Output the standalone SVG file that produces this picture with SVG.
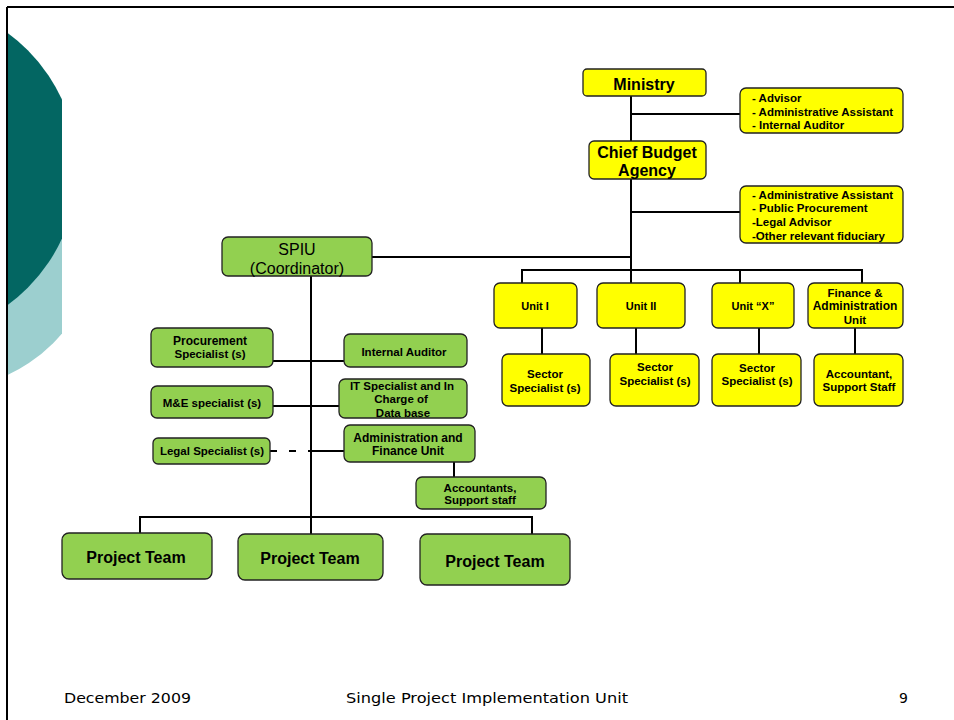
<svg xmlns="http://www.w3.org/2000/svg" width="954" height="720" viewBox="0 0 954 720">
<defs>
<style>
.y{fill:#FFFF00;stroke:#222;stroke-width:1.3}
.g{fill:#92D050;stroke:#222;stroke-width:1.3}
.c{stroke:#000;stroke-width:2;fill:none}
.t{font-family:"Liberation Sans",Arial,sans-serif;font-weight:bold;fill:#000;text-anchor:middle}
.tl{font-family:"Liberation Sans",Arial,sans-serif;font-weight:bold;fill:#000;font-size:11.5px}
.s{font-size:11.5px}
.m{font-size:16px}
.f{font-family:"DejaVu Sans",Verdana,sans-serif;font-size:14px;fill:#000}
</style>
<clipPath id="clipL"><rect x="8" y="0" width="54" height="720"/></clipPath>
</defs>
<rect width="954" height="720" fill="#fff"/>
<g id="decor" clip-path="url(#clipL)">
<circle cx="-60" cy="230" r="160" fill="#9CCFCF"/>
<circle cx="-91" cy="169" r="168" fill="#036662"/>
</g>
<g id="frame">
<line x1="7" y1="7" x2="954" y2="7" stroke="#000" stroke-width="2"/>
<line x1="7" y1="7" x2="7" y2="720" stroke="#000" stroke-width="2"/>
</g>
<g id="connectors">
<path class="c" d="M631 96V283M631 114H740M631 212H740M372 257H631"/>
<path class="c" d="M522 283V270H862V283M740 270V283"/>
<path class="c" d="M542 328V354M636 328V354M759 328V354M855 328V354"/>
<path class="c" d="M311 276V534M273 361H344M273 406H339M311 451H344M454 462V477"/>
<path class="c" d="M270 451H311" stroke-dasharray="7 12"/>
<path class="c" d="M140 533V517H532V534"/>
</g>
<g id="ministry"><rect class="y" x="583" y="69" width="123" height="27" rx="4"/><text class="t m" x="644" y="90">Ministry</text></g>
<g id="advisors"><rect class="y" x="740" y="88" width="163" height="45" rx="6"/>
<text class="tl" x="752" y="102">- Advisor</text><text class="tl" x="752" y="116">- Administrative Assistant</text><text class="tl" x="752" y="129">- Internal Auditor</text></g>
<g id="cba"><rect class="y" x="589" y="141" width="117" height="38" rx="5"/><text class="t m" x="647" y="158">Chief Budget</text><text class="t m" x="647" y="176">Agency</text></g>
<g id="cba-staff"><rect class="y" x="740" y="186" width="163" height="57" rx="6"/>
<text class="tl" x="752" y="199">- Administrative Assistant</text><text class="tl" x="752" y="212">- Public Procurement</text><text class="tl" x="752" y="226">-Legal Advisor</text><text class="tl" x="752" y="240">-Other relevant fiduciary</text></g>
<g id="unit1"><rect class="y" x="494" y="283" width="83" height="45" rx="6"/><text class="t" font-size="11" x="535" y="310">Unit I</text></g>
<g id="unit2"><rect class="y" x="597" y="283" width="88" height="45" rx="6"/><text class="t" font-size="11" x="641" y="310">Unit II</text></g>
<g id="unitx"><rect class="y" x="712" y="283" width="82" height="45" rx="6"/><text class="t" font-size="11" x="753" y="310">Unit “X”</text></g>
<g id="finunit"><rect class="y" x="808" y="283" width="95" height="45" rx="6"/><text class="t" font-size="11.5" x="855" y="297">Finance &amp;</text><text class="t" font-size="12" x="855" y="310">Administration</text><text class="t" font-size="11.5" x="855" y="324">Unit</text></g>
<g id="sector1"><rect class="y" x="502" y="354" width="88" height="52" rx="6"/><text class="t s" x="545" y="378">Sector</text><text class="t s" x="545" y="392">Specialist (s)</text></g>
<g id="sector2"><rect class="y" x="610" y="354" width="89" height="52" rx="6"/><text class="t s" x="655" y="371">Sector</text><text class="t s" x="655" y="385">Specialist (s)</text></g>
<g id="sector3"><rect class="y" x="712" y="354" width="89" height="52" rx="6"/><text class="t s" x="757" y="372">Sector</text><text class="t s" x="757" y="385">Specialist (s)</text></g>
<g id="accountant"><rect class="y" x="814" y="354" width="89" height="52" rx="6"/><text class="t s" x="859" y="378">Accountant,</text><text class="t s" x="859" y="391">Support Staff</text></g>
<g id="spiu"><rect class="g" x="222" y="237" width="150" height="39" rx="6"/>
<text x="297" y="255" font-family="Liberation Sans,Arial,sans-serif" font-size="16" text-anchor="middle">SPIU</text>
<text x="297" y="274" font-family="Liberation Sans,Arial,sans-serif" font-size="16" text-anchor="middle">(Coordinator)</text></g>
<g id="procurement"><rect class="g" x="151" y="328" width="122" height="39" rx="6"/><text class="t" font-size="12" x="210" y="345">Procurement</text><text class="t s" x="210" y="358">Specialist (s)</text></g>
<g id="auditor"><rect class="g" x="344" y="334" width="123" height="33" rx="6"/><text class="t s" x="404" y="356">Internal Auditor</text></g>
<g id="mande"><rect class="g" x="151" y="386" width="122" height="32" rx="6"/><text class="t s" x="212" y="407">M&amp;E specialist (s)</text></g>
<g id="itspec"><rect class="g" x="339" y="379" width="128" height="39" rx="6"/><text class="t s" x="402" y="390">IT Specialist and In</text><text class="t s" x="401" y="403">Charge of</text><text class="t s" x="403" y="417">Data base</text></g>
<g id="legal"><rect class="g" x="153" y="438" width="117" height="26" rx="5"/><text class="t s" x="212" y="455">Legal Specialist (s)</text></g>
<g id="adminfin"><rect class="g" x="344" y="425" width="131" height="37" rx="6"/><text class="t" font-size="12" x="408" y="442">Administration and</text><text class="t" font-size="12" x="408" y="455">Finance Unit</text></g>
<g id="accountants"><rect class="g" x="416" y="477" width="130" height="32" rx="6"/><text class="t s" x="480" y="492">Accountants,</text><text class="t s" x="480" y="504">Support staff</text></g>
<g id="pt1"><rect class="g" x="62" y="533" width="150" height="46" rx="7"/><text class="t m" x="136" y="563">Project Team</text></g>
<g id="pt2"><rect class="g" x="238" y="534" width="145" height="46" rx="7"/><text class="t m" x="310" y="564">Project Team</text></g>
<g id="pt3"><rect class="g" x="420" y="534" width="150" height="51" rx="7"/><text class="t m" x="495" y="567">Project Team</text></g>
<g id="footer">
<text class="f" x="64" y="703" textLength="127" lengthAdjust="spacingAndGlyphs">December 2009</text>
<text class="f" x="346" y="703" textLength="282" lengthAdjust="spacingAndGlyphs">Single Project Implementation Unit</text>
<text class="f" x="899" y="703">9</text>
</g>
</svg>
